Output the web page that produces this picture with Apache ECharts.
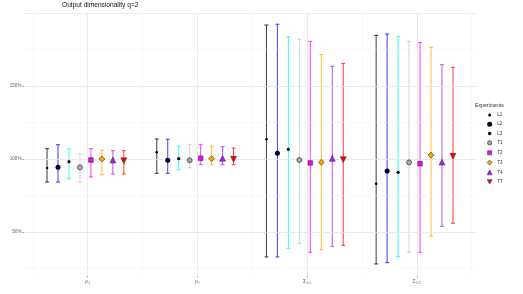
<!DOCTYPE html>
<html>
<head>
<meta charset="utf-8">
<script src="https://cdn.jsdelivr.net/npm/echarts@6/dist/echarts.min.js"></script>
<style>html,body{margin:0;padding:0;background:#fff;}#c{width:523px;height:294px;}</style>
</head>
<body>
<div id="c"></div>
<script>
// ---- data ----
const categories = ['ρ₁', 'ρ₂', 'Σ₁,₁', 'Σ₂,₂'];
const experiments = ['L1', 'L2', 'L3', 'T1', 'T2', 'T3', 'T4', 'TT'];
const yTickLabels = [50, 100, 150];

const mid_L1 = [93.8, 104.6, 113.5, 83.1];
const lo_L1  = [84.2, 90.2, 32.9, 28.1];
const hi_L1  = [107.1, 113.7, 191.8, 184.7];

const mid_L2 = [94.3, 99.1, 103.9, 91.8];
const lo_L2  = [84.2, 90.2, 32.9, 29.0];
const hi_L2  = [109.8, 113.5, 192.3, 185.6];

const mid_L3 = [98.2, 100.2, 106.6, 90.9];
const lo_L3  = [86.5, 92.5, 38.8, 33.1];
const hi_L3  = [107.1, 108.7, 183.8, 183.8];

const mid_T1 = [94.3, 99.1, 99.3, 97.7];
const lo_T1  = [84.2, 94.0, 42.0, 36.1];
const hi_T1  = [103.6, 110.0, 182.0, 180.6];

const mid_T2 = [99.3, 100.5, 97.3, 96.8];
const lo_T2  = [87.7, 96.1, 36.1, 36.1];
const hi_T2  = [107.1, 110.0, 180.6, 179.7];

const mid_T3 = [100.0, 100.2, 97.7, 102.7];
const lo_T3  = [89.2, 96.1, 37.9, 47.1];
const hi_T3  = [106.0, 108.7, 171.7, 176.5];

const mid_T4 = [99.3, 100.5, 100.5, 97.9];
const lo_T4  = [89.7, 96.1, 40.2, 53.9];
const hi_T4  = [105.7, 108.4, 163.5, 164.6];

const mid_TT = [98.8, 99.8, 99.5, 101.8];
const lo_TT  = [89.7, 96.1, 40.9, 56.0];
const hi_TT  = [105.7, 107.5, 165.5, 162.8];

const mids = [mid_L1, mid_L2, mid_L3, mid_T1, mid_T2, mid_T3, mid_T4, mid_TT];
const los  = [lo_L1, lo_L2, lo_L3, lo_T1, lo_T2, lo_T3, lo_T4, lo_TT];
const his  = [hi_L1, hi_L2, hi_L3, hi_T1, hi_T2, hi_T3, hi_T4, hi_TT];

// ---- styles ----
const barColors = ['rgba(0,0,0,0.7)', 'rgba(0,0,255,0.7)', 'rgba(0,255,255,0.75)', 'rgba(200,200,200,0.75)',
                   'rgba(255,0,255,0.7)', 'rgba(255,165,0,0.7)', 'rgba(160,32,240,0.7)', 'rgba(255,0,0,0.7)'];
const pointStyle = [
  {symbol: 'circle', size: 2.5, color: '#000', border: '#000', bw: 0},
  {symbol: 'circle', size: 5, color: '#000022', border: '#000', bw: 0},
  {symbol: 'circle', size: 3.2, color: '#000', border: '#000', bw: 0},
  {symbol: 'circle', size: 5, color: '#aaaaaa', border: '#333', bw: 0.7},
  {symbol: 'rect', size: 4.6, color: '#ff00ff', border: '#333', bw: 0.6},
  {symbol: 'diamond', size: 6, color: '#ffa500', border: '#333', bw: 0.6},
  {symbol: 'triangle', size: 6, color: '#a020f0', border: '#333', bw: 0.5},
  {symbol: 'triangle', size: 6, color: '#ff0000', border: '#333', bw: 0.5, rotate: 180}
];
// legend icons: shapes drawn inside a 10x10 box (box corners are zero-area dots)
const box = 'M0,0 L0.01,0 Z M10,10 L9.99,10 Z ';
function circ(r) { return 'M' + (5 - r) + ',5 A' + r + ',' + r + ' 0 1 1 ' + (5 + r) + ',5 A' + r + ',' + r + ' 0 1 1 ' + (5 - r) + ',5 Z'; }
const legendIcons = [
  'path://' + box + circ(3),
  'circle',
  'path://' + box + circ(3.5),
  'path://' + box + circ(4.3),
  'path://' + box + 'M1,1 L9,1 L9,9 L1,9 Z',
  'diamond',
  'triangle',
  'path://M0,0 L10,0 L5,8.66 Z'
];
const dodgeStart = -0.37, dodgeStep = 0.1;

const series = [];
// gridlines
const hLines = [];
for (let v = 25; v <= 200; v += 25) {
  hLines.push({yAxis: v, lineStyle: {color: v % 50 === 0 ? '#e6e6e6' : '#f3f3f3', width: v % 50 === 0 ? 0.8 : 0.5, type: 'solid'}});
}
const vLines = [];
for (let v = 0.5; v <= 4.5; v += 0.5) {
  vLines.push({xAxis: v, lineStyle: {color: Number.isInteger(v) ? '#e6e6e6' : '#f3f3f3', width: Number.isInteger(v) ? 0.8 : 0.5, type: 'solid'}});
}
series.push({
  type: 'line', name: 'grid', data: [], silent: true,
  markLine: {silent: true, symbol: 'none', label: {show: false}, animation: false, data: hLines.concat(vLines)}
});

experiments.forEach((e, k) => {
  const off = dodgeStart + dodgeStep * k;
  series.push({
    type: 'custom', name: 'eb_' + e, z: 2,
    data: categories.map((c, i) => [i + 1 + off, los[k][i], his[k][i]]),
    renderItem: function (params, api) {
      const x = api.value(0);
      const p1 = api.coord([x, api.value(1)]);
      const p2 = api.coord([x, api.value(2)]);
      const hw = 2;
      const st = {stroke: barColors[k], lineWidth: 1.1};
      return {
        type: 'group', children: [
          {type: 'line', shape: {x1: p1[0], y1: p1[1], x2: p2[0], y2: p2[1]}, style: st},
          {type: 'line', shape: {x1: p1[0] - hw, y1: p1[1], x2: p1[0] + hw, y2: p1[1]}, style: st},
          {type: 'line', shape: {x1: p2[0] - hw, y1: p2[1], x2: p2[0] + hw, y2: p2[1]}, style: st}
        ]
      };
    }
  });
});
experiments.forEach((e, k) => {
  const off = dodgeStart + dodgeStep * k;
  const ps = pointStyle[k];
  series.push({
    type: 'scatter', name: e, z: 5,
    symbol: ps.symbol, symbolSize: ps.size, symbolRotate: ps.rotate || 0,
    itemStyle: {color: ps.color, borderColor: ps.border, borderWidth: ps.bw, opacity: 1},
    data: categories.map((c, i) => [i + 1 + off, mids[k][i]])
  });
});

const chart = echarts.init(document.getElementById('c'), null, {renderer: 'canvas'});
chart.setOption({
  animation: false,
  backgroundColor: '#fff',
  textStyle: {fontFamily: 'Liberation Sans'},
  title: [
    {text: 'Output dimensionality q=2', left: 62, top: 2, padding: 0, textStyle: {fontSize: 6.6, fontWeight: 'normal', color: '#111', fontFamily: 'Liberation Sans'}},
    {text: 'Experiments', left: 475, top: 102.8, padding: 0, textStyle: {fontSize: 5.2, fontWeight: 'normal', color: '#333', fontFamily: 'Liberation Sans'}}
  ],
  legend: {
    orient: 'vertical', left: 486.8, top: 112.5, padding: 0,
    itemWidth: 5, itemHeight: 5, itemGap: 4.2,
    textStyle: {fontSize: 4.6, lineHeight: 5, color: '#333', fontFamily: 'Liberation Sans'},
    data: experiments.map((e, k) => ({
      name: e,
      icon: legendIcons[k],
      itemStyle: {color: pointStyle[k].color, borderColor: pointStyle[k].border, borderWidth: pointStyle[k].bw}
    })),
    selectedMode: false
  },
  grid: {left: 24, right: 47, top: 13, bottom: 18.2, containLabel: false, outerBoundsMode: 'none'},
  xAxis: {
    type: 'value', min: 0.42, max: 4.54,
    splitLine: {show: false}, axisLine: {show: false},
    axisTick: {show: true, length: 1.5, lineStyle: {color: '#444', width: 0.5}, customValues: [1, 2, 3, 4]},
    axisLabel: {customValues: [1, 2, 3, 4], fontSize: 5, color: '#666', margin: 3,
      formatter: v => categories[Math.round(v) - 1]}
  },
  yAxis: {
    type: 'value', min: 20, max: 200,
    splitLine: {show: false}, axisLine: {show: false},
    axisTick: {show: true, length: 1.5, lineStyle: {color: '#444', width: 0.5}, customValues: yTickLabels},
    axisLabel: {customValues: yTickLabels, fontSize: 4.6, color: '#666', margin: 2.5, formatter: v => v + '%'},
    name: 'Ratio of posterior samples / simulation values', nameLocation: 'middle', nameGap: 17,
    nameTextStyle: {fontSize: 5, color: '#222', fontFamily: 'Liberation Sans'}
  },
  series: series
});
</script>
</body>
</html>
